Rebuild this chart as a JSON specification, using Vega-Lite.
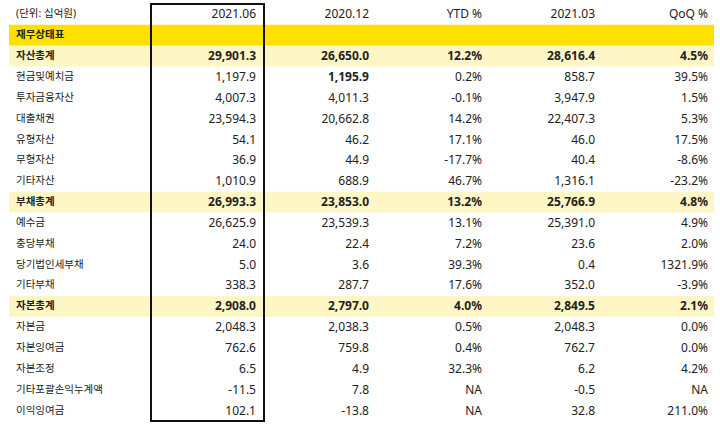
{
  "$schema": "https://vega.github.io/schema/vega-lite/v6.json",
  "width": 705,
  "height": 417,
  "autosize": "none",
  "padding": {"left": 9, "right": 6, "top": 4, "bottom": 8},
  "background": "white",
  "config": {"view": {"stroke": null}, "text": {"font": "Noto Sans, Noto Sans CJK KR", "fontSize": 12, "color": "#222222"}},
  "data": {"values": [
    {"label": "(단위: 십억원)", "kind": "header", "c1": "2021.06", "c2": "2020.12", "c3": "YTD %", "c4": "2021.03", "c5": "QoQ %"},
    {"label": "재무상태표", "kind": "section", "c1": "", "c2": "", "c3": "", "c4": "", "c5": ""},
    {"label": "자산총계", "kind": "total", "c1": "29,901.3", "c2": "26,650.0", "c3": "12.2%", "c4": "28,616.4", "c5": "4.5%"},
    {"label": "현금및예치금", "kind": "item", "c1": "1,197.9", "c2": "1,195.9", "c3": "0.2%", "c4": "858.7", "c5": "39.5%"},
    {"label": "투자금융자산", "kind": "item", "c1": "4,007.3", "c2": "4,011.3", "c3": "-0.1%", "c4": "3,947.9", "c5": "1.5%"},
    {"label": "대출채권", "kind": "item", "c1": "23,594.3", "c2": "20,662.8", "c3": "14.2%", "c4": "22,407.3", "c5": "5.3%"},
    {"label": "유형자산", "kind": "item", "c1": "54.1", "c2": "46.2", "c3": "17.1%", "c4": "46.0", "c5": "17.5%"},
    {"label": "무형자산", "kind": "item", "c1": "36.9", "c2": "44.9", "c3": "-17.7%", "c4": "40.4", "c5": "-8.6%"},
    {"label": "기타자산", "kind": "item", "c1": "1,010.9", "c2": "688.9", "c3": "46.7%", "c4": "1,316.1", "c5": "-23.2%"},
    {"label": "부채총계", "kind": "total", "c1": "26,993.3", "c2": "23,853.0", "c3": "13.2%", "c4": "25,766.9", "c5": "4.8%"},
    {"label": "예수금", "kind": "item", "c1": "26,625.9", "c2": "23,539.3", "c3": "13.1%", "c4": "25,391.0", "c5": "4.9%"},
    {"label": "충당부채", "kind": "item", "c1": "24.0", "c2": "22.4", "c3": "7.2%", "c4": "23.6", "c5": "2.0%"},
    {"label": "당기법인세부채", "kind": "item", "c1": "5.0", "c2": "3.6", "c3": "39.3%", "c4": "0.4", "c5": "1321.9%"},
    {"label": "기타부채", "kind": "item", "c1": "338.3", "c2": "287.7", "c3": "17.6%", "c4": "352.0", "c5": "-3.9%"},
    {"label": "자본총계", "kind": "total", "c1": "2,908.0", "c2": "2,797.0", "c3": "4.0%", "c4": "2,849.5", "c5": "2.1%"},
    {"label": "자본금", "kind": "item", "c1": "2,048.3", "c2": "2,038.3", "c3": "0.5%", "c4": "2,048.3", "c5": "0.0%"},
    {"label": "자본잉여금", "kind": "item", "c1": "762.6", "c2": "759.8", "c3": "0.4%", "c4": "762.7", "c5": "0.0%"},
    {"label": "자본조정", "kind": "item", "c1": "6.5", "c2": "4.9", "c3": "32.3%", "c4": "6.2", "c5": "4.2%"},
    {"label": "기타포괄손익누계액", "kind": "item", "c1": "-11.5", "c2": "7.8", "c3": "NA", "c4": "-0.5", "c5": "NA"},
    {"label": "이익잉여금", "kind": "item", "c1": "102.1", "c2": "-13.8", "c3": "NA", "c4": "32.8", "c5": "211.0%"}
  ]},
  "encoding": {
    "y": {"field": "label", "type": "nominal", "axis": null,
      "scale": {"type": "band", "paddingInner": 0, "paddingOuter": 0,
        "domain": ["(단위: 십억원)", "재무상태표", "자산총계", "현금및예치금", "투자금융자산", "대출채권", "유형자산", "무형자산", "기타자산", "부채총계", "예수금", "충당부채", "당기법인세부채", "기타부채", "자본총계", "자본금", "자본잉여금", "자본조정", "기타포괄손익누계액", "이익잉여금"]}}
  },
  "layer": [
    {
      "transform": [{"filter": "datum.kind == 'section' || datum.kind == 'total'"}],
      "mark": {"type": "rect"},
      "encoding": {
        "color": {"field": "kind", "type": "nominal", "legend": null,
          "scale": {"domain": ["section", "total"], "range": ["#FEE100", "#FFF6C6"]}}
      }
    },
    {
      "transform": [{"filter": "datum.kind == 'header' || datum.kind == 'item'"}],
      "mark": {"type": "text", "align": "left", "baseline": "middle", "dx": -22, "fontSize": 10.5},
      "encoding": {
        "x": {"datum": "label", "bandPosition": 0, "type": "nominal", "axis": null,
          "scale": {"type": "band", "domain": ["label", "c1", "c2", "c3", "c4", "c5"], "range": [29, 707], "paddingInner": 0, "paddingOuter": 0}},
        "text": {"field": "label"}
      }
    },
    {
      "transform": [{"filter": "datum.kind == 'section' || datum.kind == 'total'"}],
      "mark": {"type": "text", "align": "left", "baseline": "middle", "dx": -22, "fontWeight": "bold", "fontSize": 10.5},
      "encoding": {
        "x": {"datum": "label", "bandPosition": 0, "type": "nominal"},
        "text": {"field": "label"}
      }
    },
    {
      "transform": [
        {"fold": ["c1", "c2", "c3", "c4", "c5"], "as": ["col", "val"]},
        {"filter": "!(datum.kind == 'total' || (datum.label == '현금및예치금' && datum.col == 'c2'))"}
      ],
      "mark": {"type": "text", "align": "right", "baseline": "middle", "dx": -8},
      "encoding": {
        "x": {"field": "col", "type": "nominal", "bandPosition": 1},
        "text": {"field": "val"}
      }
    },
    {
      "transform": [
        {"fold": ["c1", "c2", "c3", "c4", "c5"], "as": ["col", "val"]},
        {"filter": "datum.kind == 'total' || (datum.label == '현금및예치금' && datum.col == 'c2')"}
      ],
      "mark": {"type": "text", "align": "right", "baseline": "middle", "dx": -8, "fontWeight": "bold"},
      "encoding": {
        "x": {"field": "col", "type": "nominal", "bandPosition": 1},
        "text": {"field": "val"}
      }
    },
    {
      "mark": {"type": "rect", "fill": null, "fillOpacity": 0, "stroke": "#111111", "strokeWidth": 2},
      "encoding": {
        "x": {"datum": "c1", "type": "nominal"},
        "y": {"value": 0},
        "y2": {"value": 417}
      }
    }
  ]
}
